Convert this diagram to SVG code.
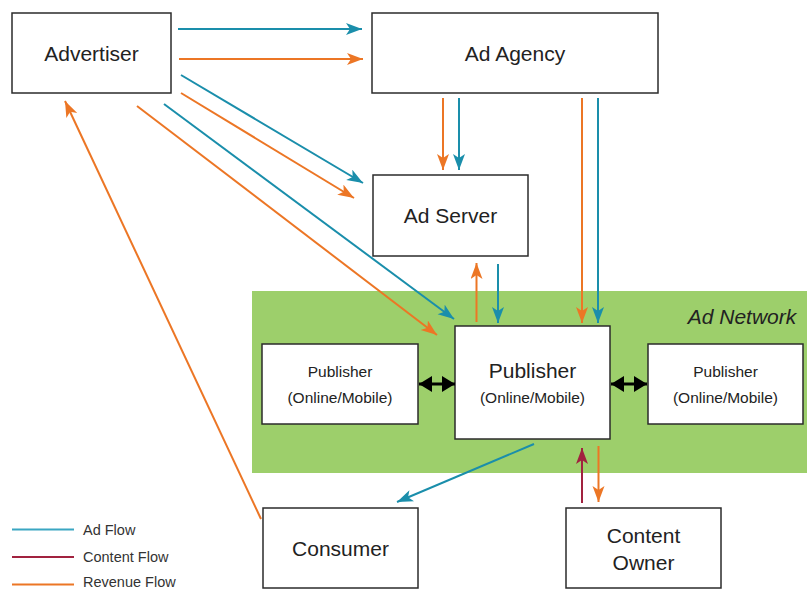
<svg xmlns="http://www.w3.org/2000/svg" width="807" height="589" viewBox="0 0 807 589">
<style>
.box{fill:#fff;stroke:#2b2b2b;stroke-width:1.5}
.t{font-family:"Liberation Sans",Arial,sans-serif;fill:#222;text-anchor:middle}
.big{font-size:21px}
.sm{font-size:15.5px}
.lg{font-family:"Liberation Sans",Arial,sans-serif;fill:#333;font-size:14.5px}
.ad{stroke:#1a8eab;stroke-width:2;fill:none}
.rev{stroke:#ec7625;stroke-width:2;fill:none}
.con{stroke:#a1223f;stroke-width:2;fill:none}
.blk{stroke:#000;stroke-width:3;fill:none}
</style>
<defs>
<marker id="mAd" markerUnits="userSpaceOnUse" markerWidth="17" markerHeight="13" refX="16" refY="6" orient="auto"><path d="M0,0 L16,6 L0,12 L4,6 z" fill="#1a8eab"/></marker>
<marker id="mRev" markerUnits="userSpaceOnUse" markerWidth="17" markerHeight="13" refX="16" refY="6" orient="auto"><path d="M0,0 L16,6 L0,12 L4,6 z" fill="#ec7625"/></marker>
<marker id="mCon" markerUnits="userSpaceOnUse" markerWidth="17" markerHeight="13" refX="16" refY="6" orient="auto"><path d="M0,0 L16,6 L0,12 L4,6 z" fill="#a1223f"/></marker>
<marker id="mBlk" markerUnits="userSpaceOnUse" markerWidth="14" markerHeight="17" refX="13" refY="8" orient="auto-start-reverse"><path d="M0,0 L13,8 L0,16 z" fill="#000"/></marker>
</defs>

<rect id="ad-network-area" x="252" y="291" width="555" height="182" fill="#9dcf6b"/>
<text class="t big" x="742" y="324" font-style="italic">Ad Network</text>

<g id="advertiser"><rect class="box" x="12" y="13" width="159" height="80"/><text class="t big" x="91.5" y="61">Advertiser</text></g>
<g id="ad-agency"><rect class="box" x="372" y="13" width="286" height="80"/><text class="t big" x="515" y="61">Ad Agency</text></g>
<g id="ad-server"><rect class="box" x="373" y="175" width="155" height="81"/><text class="t big" x="450.5" y="223">Ad Server</text></g>
<g id="publisher-left"><rect class="box" x="262" y="344" width="156" height="80"/><text class="t sm" x="340" y="377">Publisher</text><text class="t sm" x="340" y="403">(Online/Mobile)</text></g>
<g id="publisher-center"><rect class="box" x="455" y="326" width="155" height="113"/><text class="t big" x="532.5" y="378">Publisher</text><text class="t sm" x="532.5" y="403">(Online/Mobile)</text></g>
<g id="publisher-right"><rect class="box" x="648" y="344" width="155" height="80"/><text class="t sm" x="725.5" y="377">Publisher</text><text class="t sm" x="725.5" y="403">(Online/Mobile)</text></g>
<g id="consumer"><rect class="box" x="263" y="508" width="155" height="80"/><text class="t big" x="340.5" y="556">Consumer</text></g>
<g id="content-owner"><rect class="box" x="566" y="508" width="155" height="80"/><text class="t big" x="643.5" y="543">Content</text><text class="t big" x="643.5" y="570">Owner</text></g>

<g id="connectors">
<line class="ad" x1="178" y1="29" x2="362" y2="29" marker-end="url(#mAd)"/>
<line class="rev" x1="179" y1="59" x2="363" y2="59" marker-end="url(#mRev)"/>
<line class="ad" x1="181" y1="75" x2="363" y2="183" marker-end="url(#mAd)"/>
<line class="rev" x1="181" y1="93" x2="354" y2="198" marker-end="url(#mRev)"/>
<line class="ad" x1="164" y1="104" x2="454" y2="319" marker-end="url(#mAd)"/>
<line class="rev" x1="137" y1="106" x2="437" y2="335" marker-end="url(#mRev)"/>
<line class="rev" x1="261" y1="519" x2="65" y2="101" marker-end="url(#mRev)"/>
<line class="rev" x1="443" y1="98" x2="443" y2="170" marker-end="url(#mRev)"/>
<line class="ad" x1="459" y1="98" x2="459" y2="170" marker-end="url(#mAd)"/>
<line class="rev" x1="476.5" y1="322" x2="476.5" y2="263" marker-end="url(#mRev)"/>
<line class="ad" x1="498" y1="264" x2="498" y2="323" marker-end="url(#mAd)"/>
<line class="rev" x1="582" y1="98" x2="582" y2="323" marker-end="url(#mRev)"/>
<line class="ad" x1="598" y1="98" x2="598" y2="323" marker-end="url(#mAd)"/>
<line class="ad" x1="534" y1="444" x2="397" y2="502" marker-end="url(#mAd)"/>
<line class="con" x1="582" y1="503" x2="582" y2="448" marker-end="url(#mCon)"/>
<line class="rev" x1="598.5" y1="446" x2="598.5" y2="502" marker-end="url(#mRev)"/>
<line class="blk" x1="419" y1="384" x2="455" y2="384" marker-start="url(#mBlk)" marker-end="url(#mBlk)"/>
<line class="blk" x1="611" y1="384" x2="647" y2="384" marker-start="url(#mBlk)" marker-end="url(#mBlk)"/>
</g>

<g id="legend">
<line x1="12" y1="529.5" x2="74" y2="529.5" stroke="#3aa6c2" stroke-width="2"/>
<text class="lg" x="83" y="535">Ad Flow</text>
<line x1="12" y1="557" x2="74" y2="557" stroke="#a1223f" stroke-width="2"/>
<text class="lg" x="83" y="562">Content Flow</text>
<line x1="12" y1="584.5" x2="74" y2="584.5" stroke="#ec7625" stroke-width="2"/>
<text class="lg" x="83" y="587">Revenue Flow</text>
</g>
</svg>
